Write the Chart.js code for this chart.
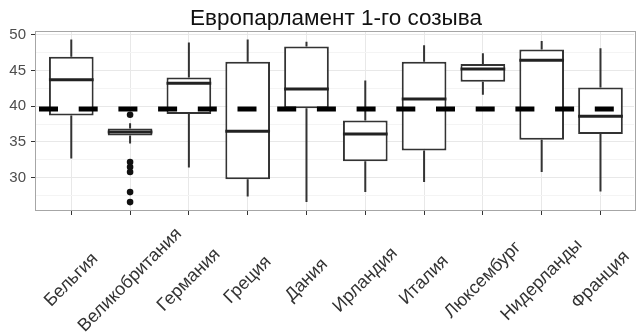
<!DOCTYPE html>
<html>
<head>
<meta charset="utf-8">
<script src="https://cdn.jsdelivr.net/npm/chart.js@4/dist/chart.umd.min.js"></script>
<style>
  html, body { margin: 0; padding: 0; background: #fff; }
  canvas { display: block; }
</style>
</head>
<body>
<canvas id="c" width="638" height="332"></canvas>
<script>
// Distribution per country, first convocation of the European Parliament
const chartTitle = 'Европарламент 1-го созыва';
const categories = ['Бельгия', 'Великобритания', 'Германия', 'Греция', 'Дания',
                    'Ирландия', 'Италия', 'Люксембург', 'Нидерланды', 'Франция'];
const whiskerHigh = [49.3, 37.6, 48.9, 49.3, 49.0, 43.6, 48.5, 47.4, 49.1, 48.1];
const upperQuartile = [46.9, 36.9, 44.0, 46.2, 48.35, 38.0, 46.2, 45.9, 47.9, 42.6];
const medianValues = [43.7, 36.4, 43.2, 36.5, 42.4, 36.1, 41.0, 45.2, 46.4, 38.6];
const lowerQuartile = [38.7, 35.9, 38.9, 29.8, 39.7, 32.3, 33.8, 43.4, 35.3, 36.1];
const whiskerLow = [32.7, 34.8, 31.45, 27.4, 26.6, 28.0, 29.4, 41.6, 30.8, 28.1];
const outlierCategory = [1, 1, 1, 1, 1, 1];
const outlierValues = [38.8, 32.2, 31.5, 30.8, 28.0, 26.6];
const referenceLevel = 39.6;
const yTickValues = [30, 35, 40, 45, 50];
const yMinorValues = [27.5, 32.5, 37.5, 42.5, 47.5];

const FONT = '"Liberation Sans", Arial, Helvetica, sans-serif';
const INK = '#333333';

const boxplotExtras = {
  id: 'boxplotExtras',
  beforeDatasetsDraw(chart) {
    const { ctx } = chart;
    const xs = chart.scales.x, ys = chart.scales.y;
    ctx.save();
    ctx.strokeStyle = INK;
    ctx.lineWidth = 2;
    categories.forEach((_, i) => {
      const x = xs.getPixelForValue(i);
      ctx.beginPath();
      ctx.moveTo(x, ys.getPixelForValue(upperQuartile[i]));
      ctx.lineTo(x, ys.getPixelForValue(whiskerHigh[i]));
      ctx.moveTo(x, ys.getPixelForValue(lowerQuartile[i]));
      ctx.lineTo(x, ys.getPixelForValue(whiskerLow[i]));
      ctx.stroke();
    });
    ctx.restore();
  },
  afterDatasetsDraw(chart) {
    const { ctx, chartArea } = chart;
    const ys = chart.scales.y;
    const boxes = chart.getDatasetMeta(0).data;
    ctx.save();
    // medians
    ctx.strokeStyle = '#222';
    ctx.lineWidth = 3;
    boxes.forEach((bar, i) => {
      const y = ys.getPixelForValue(medianValues[i]);
      ctx.beginPath();
      ctx.moveTo(bar.x - bar.width / 2, y);
      ctx.lineTo(bar.x + bar.width / 2, y);
      ctx.stroke();
    });
    // dashed reference level
    const yr = ys.getPixelForValue(referenceLevel);
    ctx.strokeStyle = '#000';
    ctx.lineWidth = 5;
    ctx.lineCap = 'butt';
    ctx.setLineDash([19, 20.7]);
    ctx.lineDashOffset = -3;
    ctx.beginPath();
    ctx.moveTo(chartArea.left, yr);
    ctx.lineTo(chartArea.right, yr);
    ctx.stroke();
    ctx.setLineDash([]);
    // panel border
    ctx.strokeStyle = '#a6a6a6';
    ctx.lineWidth = 1;
    ctx.strokeRect(chartArea.left - 0.5, chartArea.top + 0.5,
                   chartArea.right - chartArea.left + 2, chartArea.bottom - chartArea.top);
    ctx.restore();
  },
  afterDraw(chart) {
    const { ctx, chartArea } = chart;
    const xs = chart.scales.x;
    ctx.save();
    ctx.fillStyle = '#111';
    ctx.font = '22.5px ' + FONT;
    ctx.textAlign = 'center';
    ctx.textBaseline = 'alphabetic';
    ctx.fillText(chartTitle, (chartArea.left + chartArea.right) / 2 + 1, 25);
    ctx.fillStyle = '#333';
    ctx.font = '18px ' + FONT;
    ctx.textBaseline = 'middle';
    categories.forEach((label, i) => {
      ctx.save();
      ctx.translate(xs.getPixelForValue(i), 280);
      ctx.rotate(-Math.PI / 4);
      ctx.fillText(label, 0, 0);
      ctx.restore();
    });
    ctx.restore();
  }
};

new Chart(document.getElementById('c'), {
  type: 'bar',
  data: {
    datasets: [
      {
        label: 'boxes',
        data: categories.map((_, i) => ({ x: i, y: [lowerQuartile[i], upperQuartile[i]] })),
        backgroundColor: '#ffffff',
        borderColor: INK,
        borderWidth: 2,
        borderSkipped: false,
        barPercentage: 0.76,
        categoryPercentage: 1,
        order: 2
      },
      {
        type: 'scatter',
        label: 'outliers',
        data: outlierValues.map((v, k) => ({ x: outlierCategory[k], y: v })),
        backgroundColor: '#111',
        borderWidth: 0,
        pointRadius: 3.3,
        order: 1
      }
    ]
  },
  options: {
    responsive: false,
    animation: false,
    devicePixelRatio: 1,
    layout: { padding: { top: 31, left: 0, right: 0, bottom: 0 } },
    plugins: { legend: { display: false }, tooltip: { enabled: false }, title: { display: false } },
    scales: {
      x: {
        type: 'linear',
        min: -0.6,
        max: 9.57,
        offset: false,
        afterBuildTicks: (s) => { s.ticks = categories.map((_, i) => ({ value: i })); },
        afterFit: (s) => { s.height = 122; },
        ticks: { display: false, autoSkip: false },
        border: { display: false },
        grid: { offset: false, color: '#e8e8e8', tickColor: INK, tickLength: 5, lineWidth: 1 }
      },
      y: {
        type: 'linear',
        min: 25.5,
        max: 50.5,
        afterBuildTicks: (s) => {
          s.ticks = [...yMinorValues, ...yTickValues].sort((a, b) => a - b).map(v => ({ value: v }));
        },
        afterFit: (s) => { s.width = 36; },
        border: { display: false },
        ticks: {
          autoSkip: false,
          padding: 5,
          color: '#4d4d4d',
          font: { family: FONT, size: 15 },
          callback: (v) => yTickValues.includes(v) ? String(v) : ''
        },
        grid: {
          tickLength: 5,
          lineWidth: 1,
          color: (c) => (c.tick && yTickValues.includes(c.tick.value)) ? '#e8e8e8' : '#f4f4f4',
          tickColor: (c) => (c.tick && yTickValues.includes(c.tick.value)) ? INK : 'rgba(0,0,0,0)'
        }
      }
    }
  },
  plugins: [boxplotExtras]
});
</script>
</body>
</html>
